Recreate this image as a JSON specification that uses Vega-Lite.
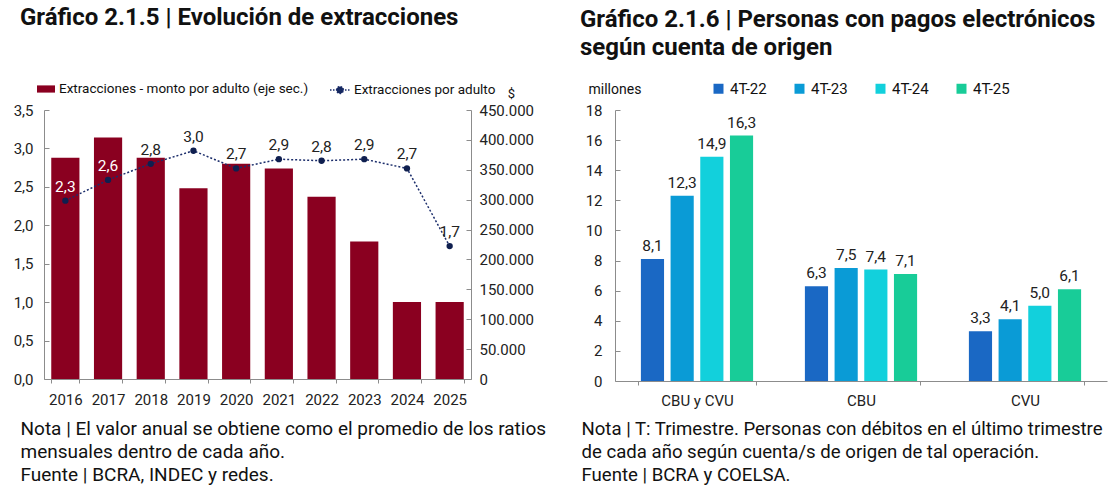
{
  "$schema": "https://vega.github.io/schema/vega-lite/v6.json",
  "padding": {"left": 13, "top": 6, "right": 5, "bottom": 5},
  "background": "white",
  "bounds": "flush",
  "spacing": 144,
  "config": {
    "locale": {"number": {"decimal": ",", "thousands": ".", "grouping": [3], "currency": ["$", ""]}},
    "font": "Roboto",
    "view": {"stroke": null},
    "axis": {"labelFont": "Roboto", "labelFontSize": 15, "labelColor": "#222", "domainColor": "#8c8c8c", "tickColor": "#8c8c8c", "grid": false, "titleFont": "Roboto", "titleColor": "#111", "titleFontWeight": "normal"},
    "legend": {"labelFont": "Roboto", "labelFontSize": 13.5, "labelColor": "#111", "padding": 0, "labelLimit": 400},
    "title": {"font": "Roboto", "fontSize": 24, "fontWeight": "bold", "color": "#111", "anchor": "start", "frame": "group"}
  },
  "resolve": {
    "scale": {"color": "independent", "fill": "independent", "stroke": "independent"},
    "legend": {"color": "independent", "fill": "independent", "stroke": "independent"}
  },
  "hconcat": [
    {
      "width": 427,
      "height": 269,
      "title": {"text": "Gráfico 2.1.5 | Evolución de extracciones", "dx": -24, "offset": 49},
      "data": {"values": [
        {"year": 2016, "monto": 370000, "ratio": 2.32},
        {"year": 2017, "monto": 404000, "ratio": 2.59},
        {"year": 2018, "monto": 370000, "ratio": 2.80},
        {"year": 2019, "monto": 319000, "ratio": 2.97},
        {"year": 2020, "monto": 360000, "ratio": 2.74},
        {"year": 2021, "monto": 352000, "ratio": 2.86},
        {"year": 2022, "monto": 305000, "ratio": 2.84},
        {"year": 2023, "monto": 230000, "ratio": 2.86},
        {"year": 2024, "monto": 129000, "ratio": 2.74},
        {"year": 2025, "monto": 129000, "ratio": 1.73}
      ]},
      "encoding": {
        "x": {"field": "year", "type": "ordinal",
          "scale": {"paddingInner": 0.34, "paddingOuter": 0.17},
          "axis": {"labelAngle": 0, "labelPadding": 9, "tickBand": "extent", "tickSize": 4,
            "title": ["Nota | El valor anual se obtiene como el promedio de los ratios", "mensuales dentro de cada año.", "Fuente | BCRA, INDEC y redes."],
            "titleFontSize": 19, "titleX": -24, "titleY": 40, "titleAlign": "left", "titleAnchor": "start", "titleBaseline": "top", "titleLineHeight": 23}}
      },
      "layer": [
        {
          "mark": {"type": "bar"},
          "encoding": {
            "y": {"field": "monto", "type": "quantitative", "scale": {"domain": [0, 450000]},
              "axis": {"orient": "right", "values": [0, 50000, 100000, 150000, 200000, 250000, 300000, 350000, 400000, 450000], "format": ",.0f", "tickSize": -5, "labelPadding": 13,
                "title": "$", "titleAngle": 0, "titleX": 40, "titleY": -10, "titleFontSize": 13, "titleAlign": "center"}},
            "fill": {"datum": "Extracciones - monto por adulto (eje sec.)", "type": "nominal", "scale": {"range": ["#8a0020"]},
              "legend": {"orient": "none", "legendX": -8, "legendY": -31, "title": null, "symbolType": "M-1,-0.4L1,-0.4L1,0.4L-1,0.4Z", "symbolSize": 324, "labelOffset": 3}}
          }
        },
        {
          "encoding": {
            "y": {"field": "ratio", "type": "quantitative", "scale": {"domain": [0, 3.5]},
              "axis": {"orient": "left", "values": [0, 0.5, 1, 1.5, 2, 2.5, 3, 3.5], "format": ".1f", "title": null, "tickSize": -5, "labelPadding": 16}}
          },
          "layer": [
            {
              "mark": {"type": "line", "strokeDash": [2, 2], "strokeWidth": 1.5},
              "encoding": {
                "stroke": {"datum": "Extracciones por adulto", "type": "nominal", "scale": {"range": ["#1b2d6b"]},
                  "legend": {"orient": "none", "legendX": 285, "legendY": -31, "title": null,
                    "symbolType": "M-1,0L1,0M-0.35,0A0.35,0.35,0,1,1,0.35,0A0.35,0.35,0,1,1,-0.35,0",
                    "symbolSize": 400, "symbolStrokeWidth": 1.3, "symbolDash": [1.5, 1.5], "symbolFillColor": "#14275e", "labelOffset": 3}}
              }
            },
            {
              "mark": {"type": "point", "filled": true, "size": 40, "color": "#0f1f4f", "opacity": 1},
              "encoding": {}
            },
            {
              "mark": {"type": "text", "dy": -14, "fontSize": 15.5, "font": "Roboto"},
              "encoding": {
                "text": {"field": "ratio", "type": "quantitative", "format": ".1f"},
                "color": {"condition": {"test": "datum.year <= 2017", "value": "#ffffff"}, "value": "#222222"}
              }
            }
          ]
        }
      ],
      "resolve": {"scale": {"y": "independent"}}
    },
    {
      "width": 492,
      "height": 271,
      "title": {"text": ["Gráfico 2.1.6 | Personas con pagos electrónicos", "según cuenta de origen"], "dx": -35, "offset": 21, "lineHeight": 28},
      "data": {"values": [
        {"cuenta": "CBU y CVU", "periodo": "4T-22", "valor": 8.1},
        {"cuenta": "CBU y CVU", "periodo": "4T-23", "valor": 12.3},
        {"cuenta": "CBU y CVU", "periodo": "4T-24", "valor": 14.9},
        {"cuenta": "CBU y CVU", "periodo": "4T-25", "valor": 16.3},
        {"cuenta": "CBU", "periodo": "4T-22", "valor": 6.3},
        {"cuenta": "CBU", "periodo": "4T-23", "valor": 7.5},
        {"cuenta": "CBU", "periodo": "4T-24", "valor": 7.4},
        {"cuenta": "CBU", "periodo": "4T-25", "valor": 7.1},
        {"cuenta": "CVU", "periodo": "4T-22", "valor": 3.3},
        {"cuenta": "CVU", "periodo": "4T-23", "valor": 4.1},
        {"cuenta": "CVU", "periodo": "4T-24", "valor": 5.0},
        {"cuenta": "CVU", "periodo": "4T-25", "valor": 6.1}
      ]},
      "encoding": {
        "x": {"field": "cuenta", "type": "nominal", "sort": ["CBU y CVU", "CBU", "CVU"],
          "scale": {"paddingInner": 0.276, "paddingOuter": 0.138},
          "axis": {"labelAngle": 0, "labelPadding": 8, "tickBand": "extent", "tickSize": 4,
            "title": ["Nota | T: Trimestre. Personas con débitos en el último trimestre", "de cada año según cuenta/s de origen de tal operación.", "Fuente | BCRA y COELSA."],
            "titleFontSize": 18.6, "titleX": -34, "titleY": 38, "titleAlign": "left", "titleAnchor": "start", "titleBaseline": "top", "titleLineHeight": 23}},
        "xOffset": {"field": "periodo", "type": "nominal", "scale": {"paddingInner": 0.22, "paddingOuter": 0.11}},
        "y": {"field": "valor", "type": "quantitative", "scale": {"domain": [0, 18]},
          "axis": {"values": [0, 2, 4, 6, 8, 10, 12, 14, 16, 18], "tickSize": -5, "labelPadding": 18,
            "title": "millones", "titleAngle": 0, "titleX": -27, "titleY": -21, "titleAlign": "left", "titleBaseline": "middle", "titleFontSize": 14}}
      },
      "layer": [
        {
          "mark": {"type": "bar"},
          "encoding": {
            "color": {"field": "periodo", "type": "nominal",
              "scale": {"domain": ["4T-22", "4T-23", "4T-24", "4T-25"], "range": ["#1a68c4", "#0a9bd6", "#12d0dc", "#18cc98"]},
              "legend": {"orient": "none", "legendX": 96, "legendY": -29, "direction": "horizontal", "columns": 4, "columnPadding": 25, "title": null, "symbolType": "square", "symbolSize": 100, "labelFontSize": 15}}
          }
        },
        {
          "mark": {"type": "text", "dy": -5, "baseline": "bottom", "fontSize": 15.5, "color": "#222", "font": "Roboto"},
          "encoding": {"text": {"field": "valor", "type": "quantitative", "format": ".1f"}}
        }
      ]
    }
  ]
}
